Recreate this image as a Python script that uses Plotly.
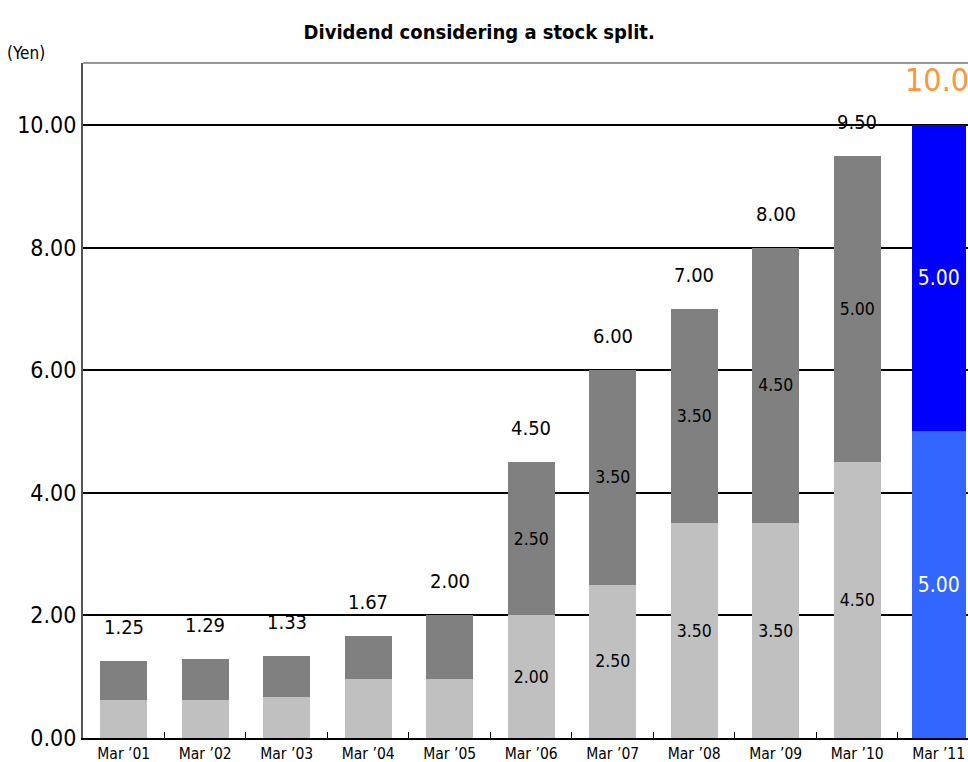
import plotly.graph_objects as go

categories = ["Mar ’01", "Mar ’02", "Mar ’03", "Mar ’04", "Mar ’05",
              "Mar ’06", "Mar ’07", "Mar ’08", "Mar ’09", "Mar ’10", "Mar ’11"]
lower = [0.62, 0.62, 0.67, 0.97, 0.97, 2.00, 2.50, 3.50, 3.50, 4.50, 5.00]
upper = [0.63, 0.67, 0.66, 0.70, 1.03, 2.50, 3.50, 3.50, 4.50, 5.00, 5.00]
totals = ["1.25", "1.29", "1.33", "1.67", "2.00", "4.50", "6.00", "7.00", "8.00", "9.50", "10.0"]
lower_labels = ["", "", "", "", "", "2.00", "2.50", "3.50", "3.50", "4.50", "5.00"]
upper_labels = ["", "", "", "", "", "2.50", "3.50", "3.50", "4.50", "5.00", "5.00"]
y_ticks = [0, 2, 4, 6, 8, 10]

FONT = "DejaVu Sans Condensed, Liberation Sans Narrow, sans-serif"
n = len(categories)
is_plan = [i == n - 1 for i in range(n)]

lower_colors = ["#3366FF" if p else "#C0C0C0" for p in is_plan]
upper_colors = ["#0000FF" if p else "#808080" for p in is_plan]
widths = [0.66 if p else 0.58 for p in is_plan]
txt_colors = ["white" if p else "black" for p in is_plan]
txt_sizes = [21 if p else 17.5 for p in is_plan]

fig = go.Figure()
fig.add_trace(go.Bar(
    x=categories, y=lower, width=widths, marker=dict(color=lower_colors, line=dict(width=0)),
    text=lower_labels, textposition="inside", insidetextanchor="middle",
    textfont=dict(family=FONT, color=txt_colors, size=txt_sizes), textangle=0,
    hoverinfo="skip", showlegend=False))
fig.add_trace(go.Bar(
    x=categories, y=upper, width=widths, marker=dict(color=upper_colors, line=dict(width=0)),
    text=upper_labels, textposition="inside", insidetextanchor="middle",
    textfont=dict(family=FONT, color=txt_colors, size=txt_sizes), textangle=0,
    hoverinfo="skip", showlegend=False))

for i, (c, lo, up, t) in enumerate(zip(categories, lower, upper, totals)):
    if is_plan[i]:
        fig.add_annotation(x=c, y=lo + up, text=t, showarrow=False, yanchor="bottom",
                           yshift=24, xshift=-2,
                           font=dict(family=FONT, size=32, color="#F7993A"))
    else:
        fig.add_annotation(x=c, y=lo + up, text=t, showarrow=False, yanchor="bottom",
                           yshift=20, font=dict(family=FONT, size=20, color="black"))

fig.add_annotation(xref="paper", yref="paper", x=-0.088, y=1.0, yshift=-2, xanchor="left",
                   yanchor="bottom", text="(Yen)", showarrow=False,
                   font=dict(family=FONT, size=17, color="black"))

fig.add_shape(type="line", xref="paper", yref="paper", x0=0, x1=1, y0=1, y1=1,
              line=dict(color="#999999", width=2))

fig.update_layout(
    width=968, height=762,
    margin=dict(l=83, r=0, t=63, b=24),
    barmode="stack", bargap=0.4,
    plot_bgcolor="white", paper_bgcolor="white",
    title=dict(text="<b>Dividend considering a stock split.</b>", x=0.495, xanchor="center",
               y=0.958, yanchor="middle", font=dict(family=FONT, size=20, color="black")),
    xaxis=dict(type="category", range=[-0.5, 10.36], showgrid=False,
               showline=True, linecolor="black", linewidth=2,
               ticks="inside", tickson="boundaries", ticklen=6, tickcolor="black", tickwidth=1,
               tickfont=dict(family=FONT, size=15.5, color="black")),
    yaxis=dict(range=[0, 11.01], tickvals=y_ticks, tickformat=".2f",
               showgrid=True, gridcolor="black", gridwidth=1.5, zeroline=False,
               showline=True, linecolor="#555555", linewidth=2, ticks="",
               tickfont=dict(family=FONT, size=23, color="black")),
)

fig.write_html("out.html")
